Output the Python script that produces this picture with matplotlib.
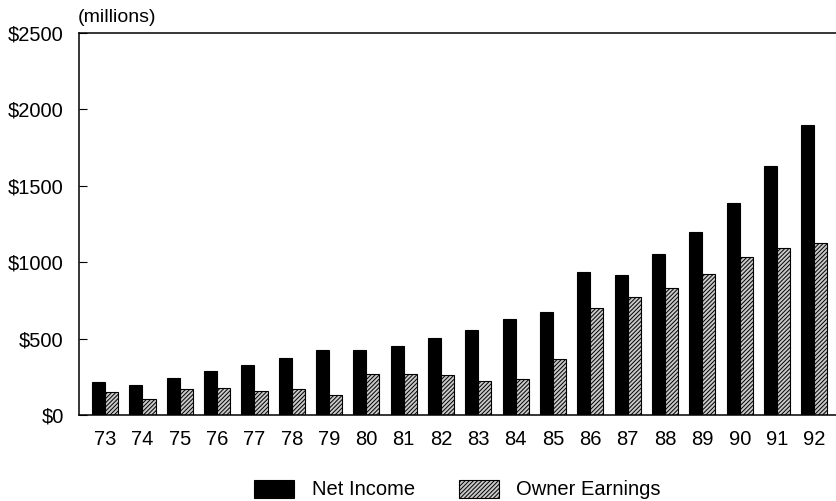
import matplotlib
matplotlib.use("Agg")
import matplotlib.pyplot as plt
import numpy as np

years = ["73", "74", "75", "76", "77", "78", "79", "80", "81", "82",
         "83", "84", "85", "86", "87", "88", "89", "90", "91", "92"]
net_income = [214, 196, 244, 288, 327, 375, 423, 427, 454, 506,
              554, 626, 677, 934, 917, 1052, 1199, 1389, 1628, 1895]
owner_earnings = [152, 105, 168, 179, 155, 168, 133, 270, 270, 262,
                  223, 236, 364, 703, 773, 834, 921, 1035, 1091, 1127]
y_ticks = [0, 500, 1000, 1500, 2000, 2500]

plt.rcParams['font.family'] = ['Liberation Sans', 'DejaVu Sans']
plt.rcParams['hatch.linewidth'] = 0.7

fig = plt.figure(figsize=(8.36, 5.01), dpi=100)
ax = fig.add_axes([79/836, 1 - 415/501, 1 - 79/836, 382/501])

x = np.arange(len(years))
w = 0.35
ax.bar(x - w/2, net_income, w, color='black', edgecolor='black',
       linewidth=0.8, label='Net Income')
ax.bar(x + w/2, owner_earnings, w, color='#c8c8c8', edgecolor='black',
       hatch='////////', linewidth=0.8, label='Owner Earnings')

ax.set_xlim(-0.70, 19.58)
ax.set_ylim(0, 2500)
ax.set_xticks(x)
ax.set_xticklabels(years, fontsize=14.5)
ax.tick_params(axis='x', length=0, pad=11)
ax.set_yticks(y_ticks)
ax.set_yticklabels([f"${v}" for v in y_ticks], fontsize=14.5)
ax.tick_params(axis='y', direction='in', length=6, width=0.8, pad=11)

ax.spines['right'].set_visible(False)
for s in ['left', 'top', 'bottom']:
    ax.spines[s].set_linewidth(1.1)

fig.text(78/836, 1 - 18/501, "(millions)", fontsize=14, ha='left', va='center')

ax.legend(loc='center', bbox_to_anchor=(0.5, -0.195), ncol=2, frameon=False,
          fontsize=14.5, handlelength=2.0, handleheight=1.0,
          handletextpad=0.85, columnspacing=2.2)

fig.savefig("out.png", dpi=100)
